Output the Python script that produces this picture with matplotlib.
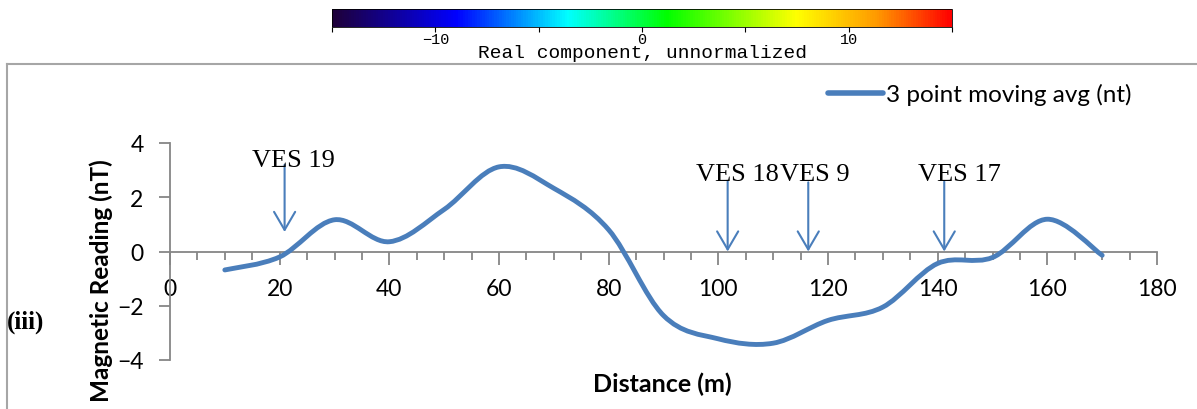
import numpy as np
import matplotlib.pyplot as plt
import matplotlib as mpl
from matplotlib.path import Path
from matplotlib.patches import PathPatch
from matplotlib.lines import Line2D
from matplotlib.colors import LinearSegmentedColormap, Normalize

# data
distance = [10, 20, 30, 40, 50, 60, 70, 80, 90, 100, 110, 120, 130, 140, 150, 160, 170]
mag_avg = [-0.68, -0.2, 1.17, 0.36, 1.55, 3.12, 2.33, 0.8, -2.36, -3.22, -3.38, -2.54,
           -2.05, -0.44, -0.22, 1.19, -0.14]

ves_names = ["VES 19", "VES 18", "VES 9", "VES 17"]
ves_x = [20.9, 101.7, 116.4, 141.2]
ves_top = [3.2, 2.58, 2.55, 2.58]
ves_tip = [0.72, 0.0, 0.0, 0.0]
ves_text_x = [22.6, 103.5, 117.6, 143.9]
ves_text_y = [3.15, 2.63, 2.63, 2.63]

cbar_ticks = [-15, -10, -5, 0, 5, 10, 15]
cbar_labels = ["", "\u221210", "", "0", "", "10", ""]

blue = "#4a7ebb"
grey = "#868686"


def smooth_path(xs, ys, t=1 / 6):
    # excel style smoothed line as bezier segments
    verts = [(xs[0], ys[0])]
    codes = [Path.MOVETO]
    n = len(xs)
    for i in range(n - 1):
        x0, y0 = (xs[i - 1], ys[i - 1]) if i > 0 else (xs[i], ys[i])
        x1, y1 = xs[i], ys[i]
        x2, y2 = xs[i + 1], ys[i + 1]
        x3, y3 = (xs[i + 2], ys[i + 2]) if i + 2 < n else (x2, y2)
        c1 = (x1 + (x2 - x0) * t, y1 + (y2 - y0) * t)
        c2 = (x2 - (x3 - x1) * t, y2 - (y3 - y1) * t)
        verts += [c1, c2, (x2, y2)]
        codes += [Path.CURVE4] * 3
    return Path(verts, codes)


fig = plt.figure(figsize=(11.97, 4.10), dpi=100)

# colour bar on top
cax = fig.add_axes([332 / 1197, 1 - 28 / 410, 620 / 1197, 18 / 410])
cmap = LinearSegmentedColormap.from_list(
    "rc", [(0.0, "#1e0038"), (0.2, "#0000ff"), (0.38, "#00ffff"), (0.54, "#00ff00"),
           (0.75, "#ffff00"), (0.88, "#ff9900"), (1.0, "#ff0000")])
cb = fig.colorbar(mpl.cm.ScalarMappable(norm=Normalize(-15, 15), cmap=cmap),
                  cax=cax, orientation="horizontal")
cb.outline.set_linewidth(0.6)
cb.set_ticks(cbar_ticks)
cb.set_ticklabels(cbar_labels)
cax.tick_params(length=3.5, width=0.8, pad=0, labelsize=11)
for lab in cax.get_xticklabels():
    lab.set_family("Liberation Mono")
cax.text(0.5, -1.66, "Real component, unnormalized", transform=cax.transAxes,
         family="Liberation Mono", size=14, ha="center", va="baseline")

# main chart
ax = fig.add_axes([170 / 1197, 1 - 361 / 410, 987 / 1197, 217 / 410])
ax.set_xlim(0, 180)
ax.set_ylim(-4, 4)

ax.plot(distance, mag_avg, alpha=0)  # keeps data on the axes
line = PathPatch(smooth_path(distance, mag_avg), facecolor="none", edgecolor=blue,
                 lw=3.5, capstyle="round", joinstyle="round", zorder=3)
ax.add_patch(line)

for s in ["top", "right"]:
    ax.spines[s].set_visible(False)
ax.spines["bottom"].set_position(("data", 0))
ax.spines["left"].set_position(("data", 0))
for s in ["bottom", "left"]:
    ax.spines[s].set_color(grey)
    ax.spines[s].set_linewidth(1.3)

ax.set_xticks(np.arange(0, 181, 20))
ax.set_xticks(np.arange(0, 181, 5), minor=True)
ax.set_yticks([-4, -2, 0, 2, 4])
ax.tick_params(axis="x", which="major", length=9, width=1.3, color=grey, pad=10,
               labelsize=16.5)
ax.tick_params(axis="x", which="minor", length=6, width=1.3, color=grey)
ax.tick_params(axis="y", length=8, width=1.3, color=grey, labelsize=16.5, pad=11)
for lab in ax.get_xticklabels() + ax.get_yticklabels():
    lab.set_family("Lato")

ax.set_xlabel("Distance (m)", family="Lato", weight="bold", size=18)
ax.xaxis.set_label_coords(0.499, -0.055)
ax.set_ylabel("Magnetic Reading (nT)", family="Lato", weight="bold", size=17.5)
ax.yaxis.set_label_coords(-0.058, 0.37)

# VES markers
for name, x, top, tip, tx, ty in zip(ves_names, ves_x, ves_top, ves_tip, ves_text_x, ves_text_y):
    ax.annotate("", xy=(x, tip), xytext=(x, top),
                arrowprops=dict(arrowstyle="->,head_length=0.65,head_width=0.38",
                                mutation_scale=20, lw=1.5, color=blue,
                                shrinkA=0, shrinkB=0), zorder=4)
    ax.text(tx, ty, name, family="Liberation Serif", size=19, ha="center",
            va="baseline", zorder=5)

# legend outside the axes
handle = Line2D([], [], color=blue, lw=4, solid_capstyle="round")
fig.legend([handle], ["3 point moving avg (nt)"], loc="center right",
           bbox_to_anchor=(1141 / 1197, 1 - 95 / 410), borderaxespad=0, frameon=False,
           prop={"family": "Lato", "size": 17.5}, handlelength=2.26, handletextpad=0.1)

fig.text(7 / 1197, 1 - 322 / 410, "(iii)", family="Liberation Serif", weight="bold",
         size=18, va="center", ha="left")

# grey frame round the chart
fig.add_artist(Line2D([7 / 1197, 1.0], [1 - 65 / 410] * 2, color="#a6a6a6", lw=1.5))
fig.add_artist(Line2D([7 / 1197] * 2, [0, 1 - 65 / 410], color="#a6a6a6", lw=1.5))

fig.savefig("out.png", dpi=100)
